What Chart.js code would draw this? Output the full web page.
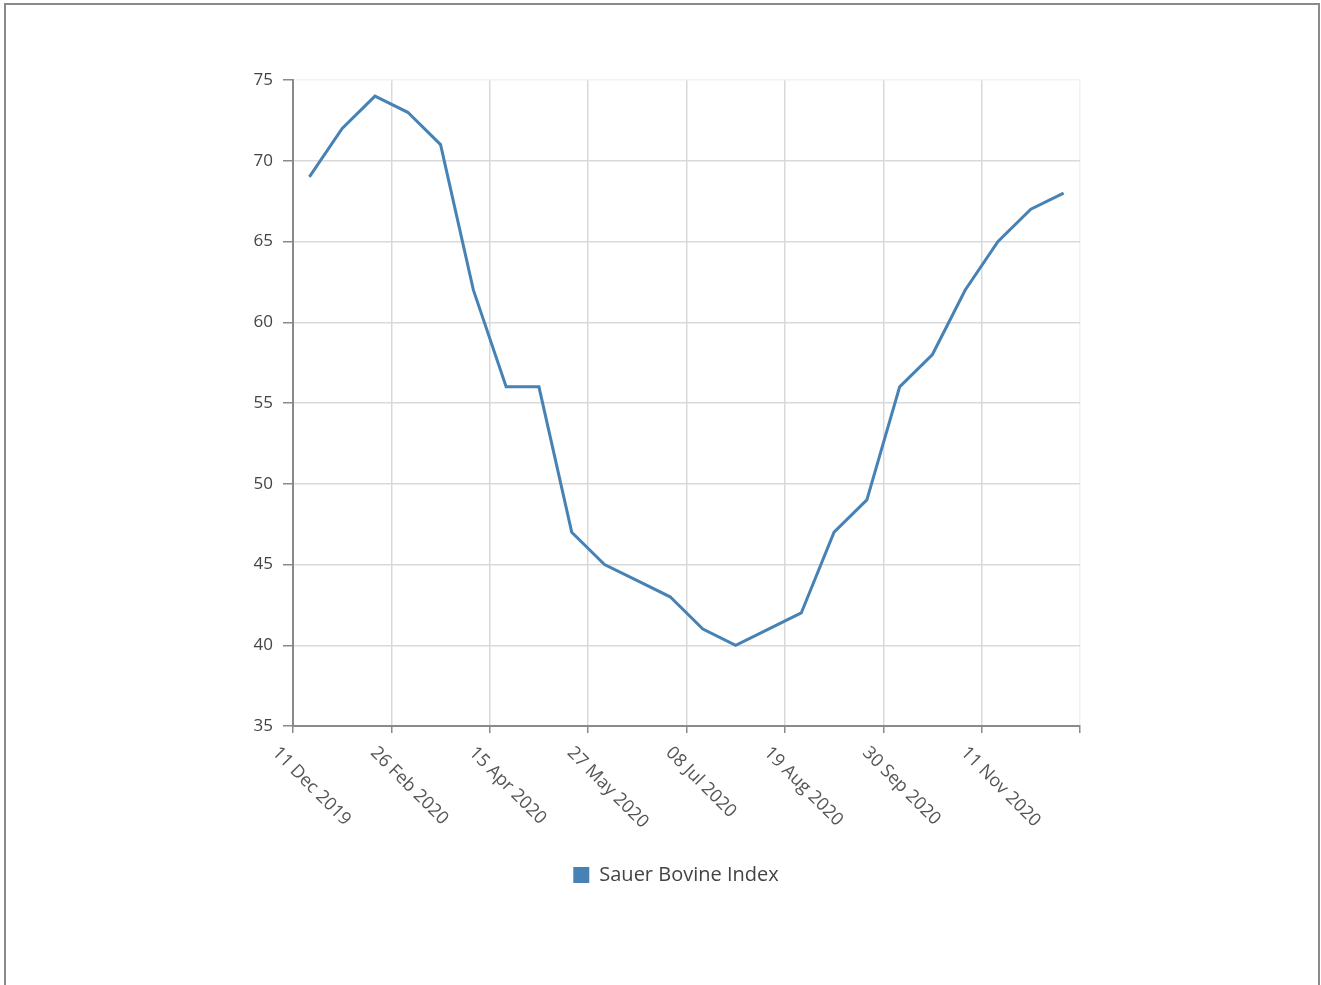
<!DOCTYPE html>
<html>
<head>
<meta charset="utf-8">
<script src="https://cdn.jsdelivr.net/npm/chart.js@4.4.1/dist/chart.umd.min.js"></script>
<style>
  html, body { margin: 0; padding: 0; background: #fff; overflow: hidden; }
  #wrap { position: absolute; left: 0; top: 0; width: 1321px; height: 985px; }
  #frame { position: absolute; left: 4px; top: 3px; width: 1312px; height: 1100px;
           border: 2px solid #8a8a8a; pointer-events: none; }
</style>
</head>
<body>
<div id="wrap"><canvas id="myChart" width="1321" height="985"></canvas></div>
<div id="frame"></div>
<script>
//Chart data
var seriesName = 'Sauer Bovine Index';
var tickLabels = ['11 Dec 2019', '26 Feb 2020', '15 Apr 2020', '27 May 2020',
                  '08 Jul 2020', '19 Aug 2020', '30 Sep 2020', '11 Nov 2020'];
var indexValues = [69, 72, 74, 73, 71, 62, 56, 56, 47, 45, 44, 43,
                   41, 40, 41, 42, 47, 49, 56, 58, 62, 65, 67, 68];
var yTicks = [35, 40, 45, 50, 55, 60, 65, 70, 75];

//point positions are just the category index
var pointIndex = indexValues.map(function (v, i) { return i; });
var perTick = 3;

var fontName = '"Open Sans", "Noto Sans", sans-serif';
var lineColor = '#4682b4';

//draws the axis labels (slanted dates under the x axis, values left of the y axis)
var axisLabels = {
  id: 'axisLabels',
  afterDraw: function (chart) {
    var xs = chart.scales.x;
    var ys = chart.scales.y;
    var ctx = chart.ctx;
    ctx.save();
    ctx.fillStyle = '#555';
    ctx.font = '18px ' + fontName;
    for (var i = 0; i < tickLabels.length; i++) {
      var px = xs.getPixelForValue(xs.ticks[i].value);
      ctx.save();
      ctx.translate(px - 18, xs.top + 24);
      ctx.rotate(Math.PI / 4);
      ctx.textAlign = 'left';
      ctx.textBaseline = 'middle';
      ctx.fillText(tickLabels[i], 0, 0);
      ctx.restore();
    }
    ctx.fillStyle = '#444';
    ctx.font = '17px ' + fontName;
    ctx.textAlign = 'right';
    ctx.textBaseline = 'middle';
    yTicks.forEach(function (v) {
      ctx.fillText(String(v), ys.right - 20, ys.getPixelForValue(v));
    });
    ctx.restore();
  }
};

var ctx = document.getElementById('myChart').getContext('2d');

var myChart = new Chart(ctx, {
  type: 'line',
  data: {
    labels: pointIndex,
    datasets: [{
      label: seriesName,
      data: indexValues,
      borderColor: lineColor,
      backgroundColor: lineColor,
      borderWidth: 3,
      pointRadius: 0,
      tension: 0
    }]
  },
  options: {
    responsive: false,
    animation: false,
    layout: { padding: { left: 272, right: 241, top: 80, bottom: 90 } },
    plugins: {
      tooltip: { enabled: false },
      legend: {
        position: 'bottom',
        labels: {
          boxWidth: 16,
          boxHeight: 16,
          padding: 10,
          color: '#444',
          font: { family: fontName, size: 20 },
          generateLabels: function (chart) {
            var items = Chart.defaults.plugins.legend.labels.generateLabels(chart);
            items.forEach(function (it) { it.lineWidth = 0; it.strokeStyle = 'rgba(0,0,0,0)'; });
            return items;
          }
        }
      }
    },
    scales: {
      x: {
        type: 'linear',
        min: -0.5,
        max: indexValues.length - 0.5,
        afterBuildTicks: function (scale) {
          var t = [];
          for (var i = 0; i <= tickLabels.length; i++) {
            t.push({ value: -0.5 + i * perTick });
          }
          scale.ticks = t;
        },
        afterFit: function (scale) { scale.height = 129; },
        ticks: { display: false },
        grid: {
          color: function (c) { return c.index === tickLabels.length ? '#f2f2f2' : '#d9d9d9'; },
          lineWidth: 1.5,
          tickLength: 7,
          tickColor: '#8a8a8a'
        },
        border: { color: '#8a8a8a', width: 2 }
      },
      y: {
        min: 35,
        max: 75,
        afterBuildTicks: function (scale) {
          scale.ticks = yTicks.map(function (v) { return { value: v }; });
        },
        afterFit: function (scale) { scale.width = 21; },
        ticks: { display: false },
        grid: {
          color: function (c) { return c.index === yTicks.length - 1 ? '#f2f2f2' : '#d9d9d9'; },
          lineWidth: 1.5,
          tickLength: 10,
          tickColor: '#8a8a8a'
        },
        border: { color: '#8a8a8a', width: 2 }
      }
    }
  },
  plugins: [axisLabels]
});
</script>
</body>
</html>
